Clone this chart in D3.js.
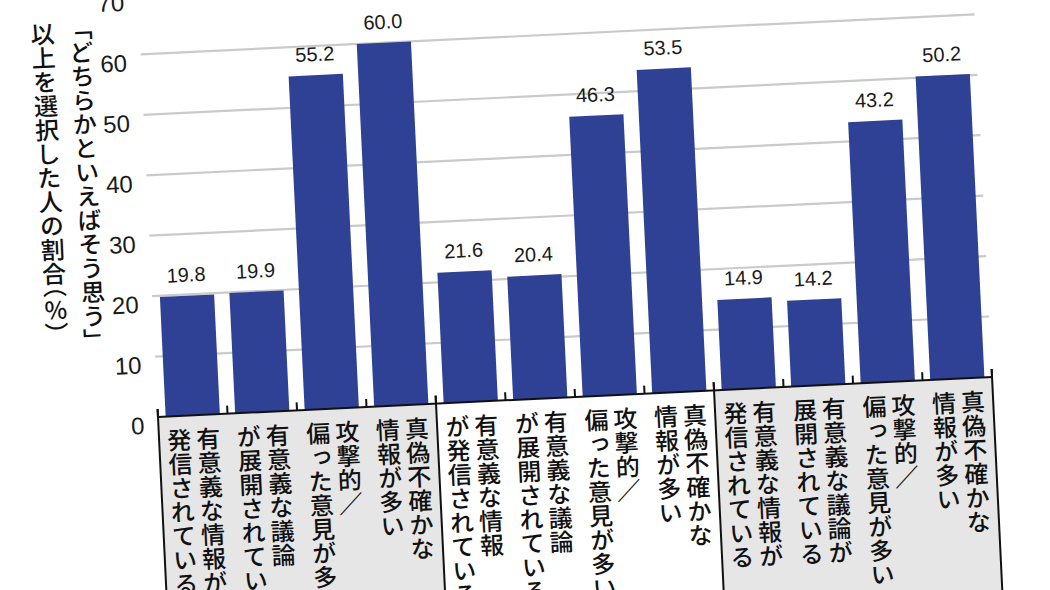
<!DOCTYPE html>
<html>
<head>
<meta charset="utf-8">
<script src="https://cdn.jsdelivr.net/npm/d3@7"></script>
<style>
  html, body { margin: 0; padding: 0; background: #fff; }
  svg { display: block; }
  .vt { writing-mode: vertical-rl; }
</style>
</head>
<body>
<svg id="chart" width="1050" height="590"></svg>
<script>
// values, three groups of four
const values = [19.8, 19.9, 55.2, 60.0, 21.6, 20.4, 46.3, 53.5, 14.9, 14.2, 43.2, 50.2];

// each category label is two vertical columns, right one first
const categories = [
    ["有意義な情報が", "発信されている"],
    ["有意義な議論", "が展開されている"],
    ["攻撃的／", "偏った意見が多い"],
    ["真偽不確かな", "情報が多い"],
    ["有意義な情報", "が発信されている"],
    ["有意義な議論", "が展開されている"],
    ["攻撃的／", "偏った意見が多い"],
    ["真偽不確かな", "情報が多い"],
    ["有意義な情報が", "発信されている"],
    ["有意義な議論が", "展開されている"],
    ["攻撃的／", "偏った意見が多い"],
    ["真偽不確かな", "情報が多い"]
];

const groupSizes = [4, 4, 4];
const yTicks = [0, 10, 20, 30, 40, 50, 60, 70];
const yTitle = ["「どちらかといえばそう思う」", "以上を選択した人の割合"];

const cfg = {
    originX: 158, originY: 417, tilt: -2.75,
    plotW: 835, plotH: 423.5,
    bar: "#2e4194", grid: "#cacaca",
    boxFills: ["#e6e6e6", "#ffffff", "#e6e6e6"],
    num: "'Liberation Sans', Arial, Helvetica, sans-serif",
    jp: "'Noto Sans CJK JP', 'Noto Sans', sans-serif"
};

const svg = d3.select("#chart");
// the whole picture sits a little tilted, like the printed page it came from
const g = svg.append("g")
    .attr("transform", `translate(${cfg.originX},${cfg.originY}) rotate(${cfg.tilt})`);

const x = d3.scaleBand()
    .domain(d3.range(values.length))
    .range([0, cfg.plotW])
    .paddingInner(0.22)
    .paddingOuter(0.11);

const y = d3.scaleLinear().domain([0, 70]).range([0, -cfg.plotH]);

// group boxes under the baseline
let start = 0;
const groupsSpan = groupSizes.map((n, i) => {
    const s = { x0: start * x.step(), x1: (start + n) * x.step(), fill: cfg.boxFills[i] };
    start += n;
    return s;
});

g.selectAll(".box")
    .data(groupsSpan)
    .join("rect")
    .attr("class", "box")
    .attr("x", d => d.x0)
    .attr("y", 0)
    .attr("width", d => d.x1 - d.x0)
    .attr("height", 320)
    .attr("fill", d => d.fill);

// gridlines
g.selectAll(".grid")
    .data(yTicks.filter(t => t > 0))
    .join("line")
    .attr("class", "grid")
    .attr("x1", 0).attr("x2", cfg.plotW)
    .attr("y1", d => y(d)).attr("y2", d => y(d))
    .attr("stroke", cfg.grid)
    .attr("stroke-width", 2.2);

// y tick labels sit a bit below their lines
const yAxis = g.append("g")
    .call(d3.axisLeft(y).tickValues(yTicks).tickSize(0).tickPadding(14));
yAxis.select(".domain").remove();
yAxis.selectAll("text")
    .attr("dy", "0.32em")
    .attr("y", 8)
    .attr("fill", "#1a1a1a")
    .attr("font-size", 24)
    .attr("font-family", cfg.num);

// bars
g.selectAll(".bar")
    .data(values)
    .join("rect")
    .attr("class", "bar")
    .attr("x", (d, i) => x(i))
    .attr("y", d => y(d))
    .attr("width", x.bandwidth())
    .attr("height", d => -y(d))
    .attr("fill", cfg.bar);

g.selectAll(".val")
    .data(values)
    .join("text")
    .attr("class", "val")
    .attr("x", (d, i) => x(i) + x.bandwidth() / 2)
    .attr("y", d => y(d) - 14)
    .attr("text-anchor", "middle")
    .attr("fill", "#1a1a1a")
    .attr("font-size", 20)
    .attr("font-family", cfg.num)
    .text(d => d3.format(".1f")(d));

// baseline, small ticks and the box dividers
g.append("line")
    .attr("x1", 0).attr("x2", cfg.plotW)
    .attr("y1", 0).attr("y2", 0)
    .attr("stroke", "#111").attr("stroke-width", 2);

g.selectAll(".tick-up")
    .data(d3.range(values.length + 1))
    .join("line")
    .attr("class", "tick-up")
    .attr("x1", i => i * x.step()).attr("x2", i => i * x.step())
    .attr("y1", -8).attr("y2", 0)
    .attr("stroke", "#111").attr("stroke-width", 2);

g.selectAll(".divider")
    .data([0, ...groupsSpan.map(d => d.x1)])
    .join("line")
    .attr("class", "divider")
    .attr("x1", d => d).attr("x2", d => d)
    .attr("y1", -8).attr("y2", 320)
    .attr("stroke", "#111").attr("stroke-width", 2);

// vertical category labels, two columns each
const colPitch = 29;
const labelG = g.selectAll(".cat")
    .data(categories)
    .join("g")
    .attr("class", "cat");

labelG.selectAll("text")
    .data((d, i) => d.map((t, k) => ({ t, k, cx: x(i) + x.bandwidth() / 2 })))
    .join("text")
    .attr("class", "vt")
    .attr("x", d => d.cx + (d.k === 0 ? colPitch / 2 : -colPitch / 2))
    .attr("y", 12)
    .attr("fill", "#111")
    .attr("font-size", 24)
    .attr("font-weight", 500)
    .attr("font-family", cfg.jp)
    .text(d => d.t);

// y title, two vertical columns
g.append("text")
    .attr("class", "vt")
    .attr("x", -59).attr("y", -404)
    .attr("fill", "#111")
    .attr("font-size", 24)
    .attr("font-weight", 500)
    .attr("font-family", cfg.jp)
    .text(yTitle[0]);

const t2 = g.append("text")
    .attr("class", "vt")
    .attr("x", -97).attr("y", -400)
    .attr("fill", "#111")
    .attr("font-size", 24)
    .attr("font-weight", 500)
    .attr("font-family", cfg.jp);
t2.append("tspan").text(yTitle[1]);
t2.append("tspan").style("font-feature-settings", "'vhal'").text("（");
t2.append("tspan").style("text-orientation", "upright").text("%");
t2.append("tspan").style("font-feature-settings", "'vhal'").text("）");
</script>
</body>
</html>
